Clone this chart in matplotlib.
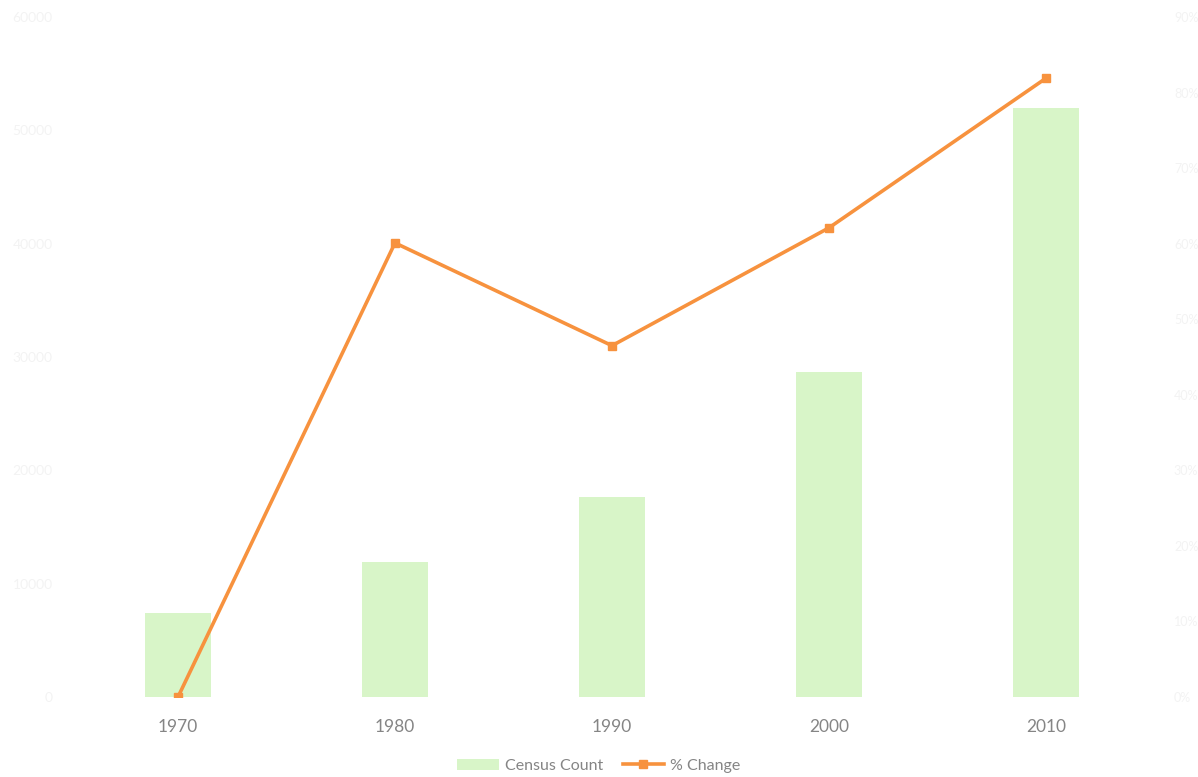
import matplotlib
matplotlib.use("Agg")
import matplotlib.pyplot as plt
from matplotlib.ticker import FuncFormatter, MultipleLocator
from matplotlib.lines import Line2D
from matplotlib.patches import Patch

# Census data by decade
years = ["1970", "1980", "1990", "2000", "2010"]
census_count = [7410, 11910, 17650, 28680, 51970]
pct_change = [0.0, 60.1, 46.5, 62.1, 81.9]

BAR_COLOR = "#d8f5c8"
LINE_COLOR = "#f7923e"
TEXT_COLOR = "#858585"
FAINT = "#f3f3f3"

plt.rcParams["font.family"] = ["Lato", "DejaVu Sans"]

fig = plt.figure(figsize=(11.98, 7.77), dpi=100)
ax = fig.add_axes([69.5 / 1198, 1 - 697 / 777, (1154.5 - 69.5) / 1198, (697 - 17) / 777])
ax2 = ax.twinx()

x = list(range(len(years)))
ax.bar(x, census_count, width=0.3, color=BAR_COLOR, zorder=2)
ax.set_xlim(-0.5, len(years) - 0.5)
ax.set_ylim(0, 60000)
ax.yaxis.set_major_locator(MultipleLocator(10000))
ax.set_xticks(x)
ax.set_xticklabels(years)

ax2.plot(x, pct_change, color=LINE_COLOR, linewidth=2.6, marker="s",
         markersize=6, markerfacecolor=LINE_COLOR, markeredgecolor=LINE_COLOR,
         zorder=3)
ax2.set_ylim(0, 90)
ax2.yaxis.set_major_locator(MultipleLocator(10))
ax2.yaxis.set_major_formatter(FuncFormatter(lambda v, p: f"{v:.0f}%"))

for a in (ax, ax2):
    for s in a.spines.values():
        s.set_visible(False)
    a.tick_params(length=0)

ax.tick_params(axis="x", colors=TEXT_COLOR, labelsize=12.5, pad=16)
ax.tick_params(axis="y", colors=FAINT, labelsize=10, pad=12)
ax2.tick_params(axis="y", colors=FAINT, labelsize=9, pad=14)

handles = [
    Patch(facecolor=BAR_COLOR, edgecolor="none", label="Census Count"),
    Line2D([0], [0], color=LINE_COLOR, linewidth=2.6, marker="s", markersize=6,
           label="% Change"),
]
fig.legend(handles=handles, loc="center", bbox_to_anchor=(0.5, 1 - 766 / 777),
           ncol=2, frameon=False, fontsize=11.5, labelcolor=TEXT_COLOR,
           handlelength=2.6, columnspacing=1.2, handletextpad=0.4)

fig.savefig("out.png", dpi=100, facecolor="white")
